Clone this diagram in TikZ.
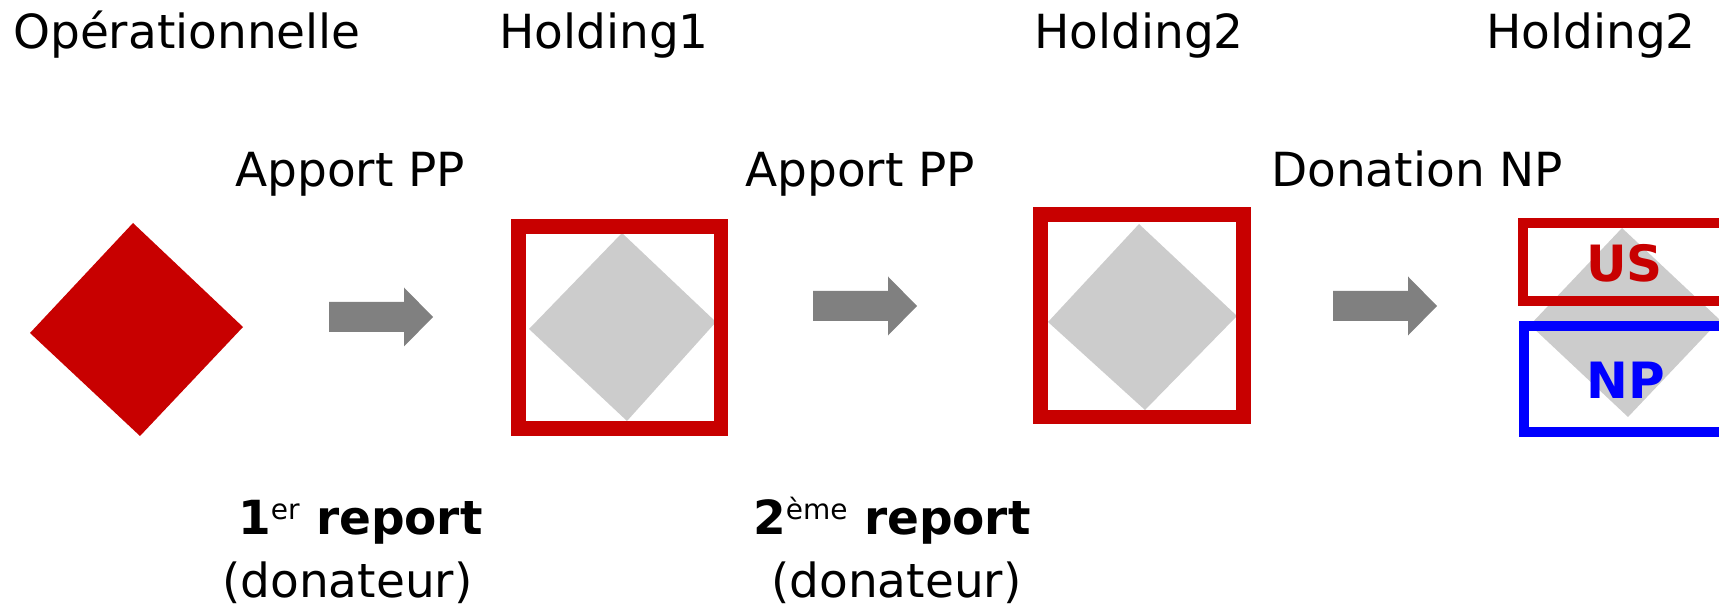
\documentclass[tikz,border=0pt]{standalone}
\usepackage{fontspec}
\setmainfont{DejaVu Sans}
\definecolor{rouge}{RGB}{200,0,0}
\definecolor{bleu}{RGB}{0,0,255}
\definecolor{grisclair}{RGB}{204,204,204}
\definecolor{grisfleche}{RGB}{128,128,128}
\newcommand{\exposant}[1]{\raisebox{15pt}{\fontsize{28}{30}\selectfont\mdseries #1}}

\begin{document}
\begin{tikzpicture}[x=1pt, y=-1pt,
    lbl/.style={anchor=base west, inner sep=0pt, font=\fontsize{47}{56}\selectfont},
    part/.style={anchor=base west, inner sep=0pt, font=\fontsize{50}{60}\selectfont\bfseries},
    losange/.style={fill=grisclair},
    cadre/.style={draw=rouge, line width=14.5pt},
    bande/.style={line width=10pt},
    fleche/.pic={\fill[grisfleche] (0,-15) -- (75,-15) -- (75,-29.5) -- (104,0)
                  -- (75,29.5) -- (75,15) -- (0,15) -- cycle;}
  ]
    \useasboundingbox (0,0) rectangle (1719,609);
    \clip (0,0) rectangle (1719,609);

    % titles
    \node[lbl] (op)  at (13,49)   {Opérationnelle};
    \node[lbl] (h1)  at (499,49)  {Holding1};
    \node[lbl] (h2)  at (1034,49) {Holding2};
    \node[lbl] (h2b) at (1486,49) {Holding2};
    \node[lbl] (ap1) at (235,187)  {Apport PP};
    \node[lbl] (ap2) at (745,187)  {Apport PP};
    \node[lbl] (don) at (1271,187) {Donation NP};

    % operating company
    \fill[rouge] (30,333) -- (133,223) -- (243,327) -- (140,436) -- cycle;
    \pic at (329,317) {fleche};

    % first holding
    \fill[losange] (529,329) -- (622,233) -- (716,322) -- (627,421) -- cycle;
    \draw[cadre] (518.5,226.5) rectangle (721,428.5);
    \pic at (813,306) {fleche};

    % second holding
    \fill[losange] (1048,322) -- (1139,224) -- (1237,316) -- (1145,410) -- cycle;
    \draw[cadre] (1040.5,214.5) rectangle (1243.5,417);
    \pic at (1333,306) {fleche};

    % split usufruit / nue-propriete
    \fill[losange] (1530,325) -- (1622,228) -- (1720,320) -- (1628,417) -- cycle;
    \draw[bande, rouge] (1760,223) -- (1523,223) -- (1523,301) -- (1760,301);
    \draw[bande, bleu]  (1760,326) -- (1524,326) -- (1524,432) -- (1760,432);
    \node[part, text=rouge] (us) at (1586,282) {US};
    \node[part, text=bleu]  (np) at (1586,399) {NP};

    % reports
    \node[lbl, font=\fontsize{47}{56}\selectfont\bfseries] (rep1) at (238,534) {1\exposant{er} report};
    \node[lbl] (don1) at (222,597) {(donateur)};
    \node[lbl, font=\fontsize{47}{56}\selectfont\bfseries] (rep2) at (753,534) {2\exposant{ème} report};
    \node[lbl] (don2) at (771,597) {(donateur)};
\end{tikzpicture}
\end{document}
